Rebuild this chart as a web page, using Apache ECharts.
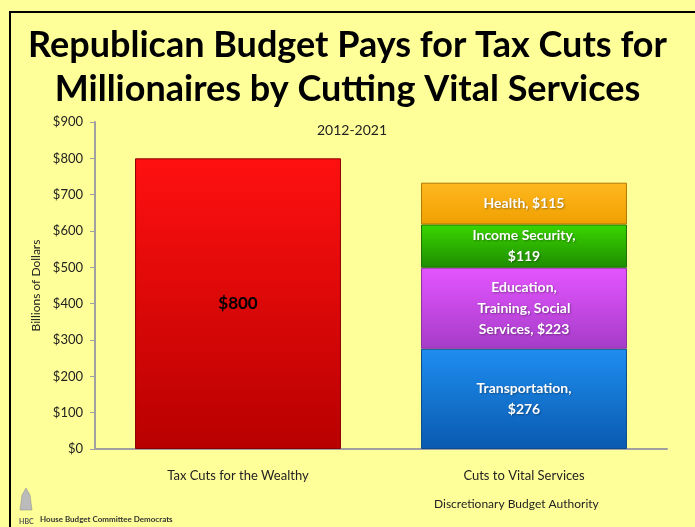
<!DOCTYPE html>
<html><head><meta charset="utf-8">
<script src="https://cdn.jsdelivr.net/npm/echarts@6/dist/echarts.min.js"></script>
<style>html,body{margin:0;padding:0;background:#FFFF99;}#c{width:695px;height:527px;}</style>
</head><body><div id="c"></div>
<script>
const categories = ["Tax Cuts for the Wealthy", "Cuts to Vital Services"];
const taxCuts = [800, null];
const transportation = [null, 276];
const education = [null, 223];
const incomeSecurity = [null, 119];
const health = [null, 115];
const yTicks = [0, 100, 200, 300, 400, 500, 600, 700, 800, 900];

const F = "Lato, 'Open Sans', sans-serif";
function grad(top, bottom) {
  return new echarts.graphic.LinearGradient(0, 0, 0, 1, [{offset: 0, color: top}, {offset: 1, color: bottom}]);
}
function whiteLabel(text) {
  return {show: true, position: 'inside', formatter: text, color: '#fff', fontFamily: F, fontWeight: 'bold', fontSize: 14, lineHeight: 21,
    textShadowColor: 'rgba(0,0,0,0.35)', textShadowBlur: 2, textShadowOffsetX: 1, textShadowOffsetY: 1};
}
const chart = echarts.init(document.getElementById('c'), null, {renderer: 'canvas'});
chart.setOption({
  backgroundColor: '#FFFF99',
  animation: false,
  title: [
    {text: 'Republican Budget Pays for Tax Cuts for\nMillionaires by Cutting Vital Services', left: 'center', top: 18,
     textStyle: {fontFamily: F, fontWeight: 'bold', fontSize: 36, lineHeight: 44, color: '#000'}},
    {text: '2012-2021', left: 347, textAlign: 'center', top: 118, textStyle: {fontFamily: F, fontWeight: 'normal', fontSize: 14, color: '#222'}}
  ],
  graphic: [
    {type: 'rect', shape: {x: 10, y: 12, width: 720, height: 540}, style: {fill: 'none', stroke: '#000', lineWidth: 2}, silent: true},
    {type: 'text', left: 434, top: 498, style: {text: 'Discretionary Budget Authority', font: '12px ' + F, fill: '#222'}},
    {type: 'text', left: 40, top: 515, style: {text: 'House Budget Committee Democrats', font: 'bold 8px ' + F, fill: '#333'}},
    {type: 'text', left: 19, top: 518, style: {text: 'HBC', font: 'bold 7px ' + F, fill: '#555'}},
    {type: 'polygon', shape: {points: [[20,510],[22,495],[26,488],[30,495],[32,510]]}, style: {fill: '#bbb', stroke: '#888', lineWidth: 0.5}}
  ],
  grid: {left: 95, right: 28, top: 122, bottom: 78},
  xAxis: {
    type: 'category', data: categories,
    axisLine: {lineStyle: {color: '#A0A0A0', width: 2}},
    axisTick: {show: false},
    axisLabel: {fontFamily: F, fontSize: 13, color: '#222', margin: 20}
  },
  yAxis: {
    type: 'value', min: 0, max: 900, interval: 100,
    name: 'Billions of Dollars', nameLocation: 'middle', nameGap: 48, nameRotate: 90,
    nameTextStyle: {fontFamily: F, fontSize: 12, color: '#222'},
    axisLine: {show: true, lineStyle: {color: '#A0A0A0', width: 2}},
    axisTick: {show: true, length: 5, lineStyle: {color: '#A0A0A0'}},
    splitLine: {show: false},
    axisLabel: {fontFamily: F, fontSize: 13, color: '#222', margin: 12,
      formatter: v => yTicks.includes(v) ? '$' + v : ''}
  },
  series: [
    {name: 'Tax Cuts', type: 'bar', stack: 's', data: taxCuts, barWidth: '72%',
     itemStyle: {color: grad('#FF1010', '#B80000'), borderColor: '#8a0000', borderWidth: 1},
     label: {show: true, position: 'inside', formatter: '${c}', color: '#000', fontFamily: F, fontWeight: 'bold', fontSize: 17}},
    {name: 'Transportation', type: 'bar', stack: 's', data: transportation, barWidth: '72%',
     itemStyle: {color: grad('#1E8EF0', '#0A5AB0'), borderColor: '#0a4a90', borderWidth: 1},
     label: whiteLabel('Transportation,\n${c}')},
    {name: 'Education', type: 'bar', stack: 's', data: education, barWidth: '72%',
     itemStyle: {color: grad('#E455FF', '#A63CC8'), borderColor: '#8a30a8', borderWidth: 1},
     label: whiteLabel('Education,\nTraining, Social\nServices, ${c}')},
    {name: 'Income Security', type: 'bar', stack: 's', data: incomeSecurity, barWidth: '72%',
     itemStyle: {color: grad('#3AD600', '#1E8C00'), borderColor: '#1a7000', borderWidth: 1},
     label: whiteLabel('Income Security,\n${c}')},
    {name: 'Health', type: 'bar', stack: 's', data: health, barWidth: '72%',
     itemStyle: {color: grad('#FFB820', '#F0A000'), borderColor: '#b07800', borderWidth: 1},
     label: whiteLabel('Health, ${c}')}
  ]
});
</script></body></html>
